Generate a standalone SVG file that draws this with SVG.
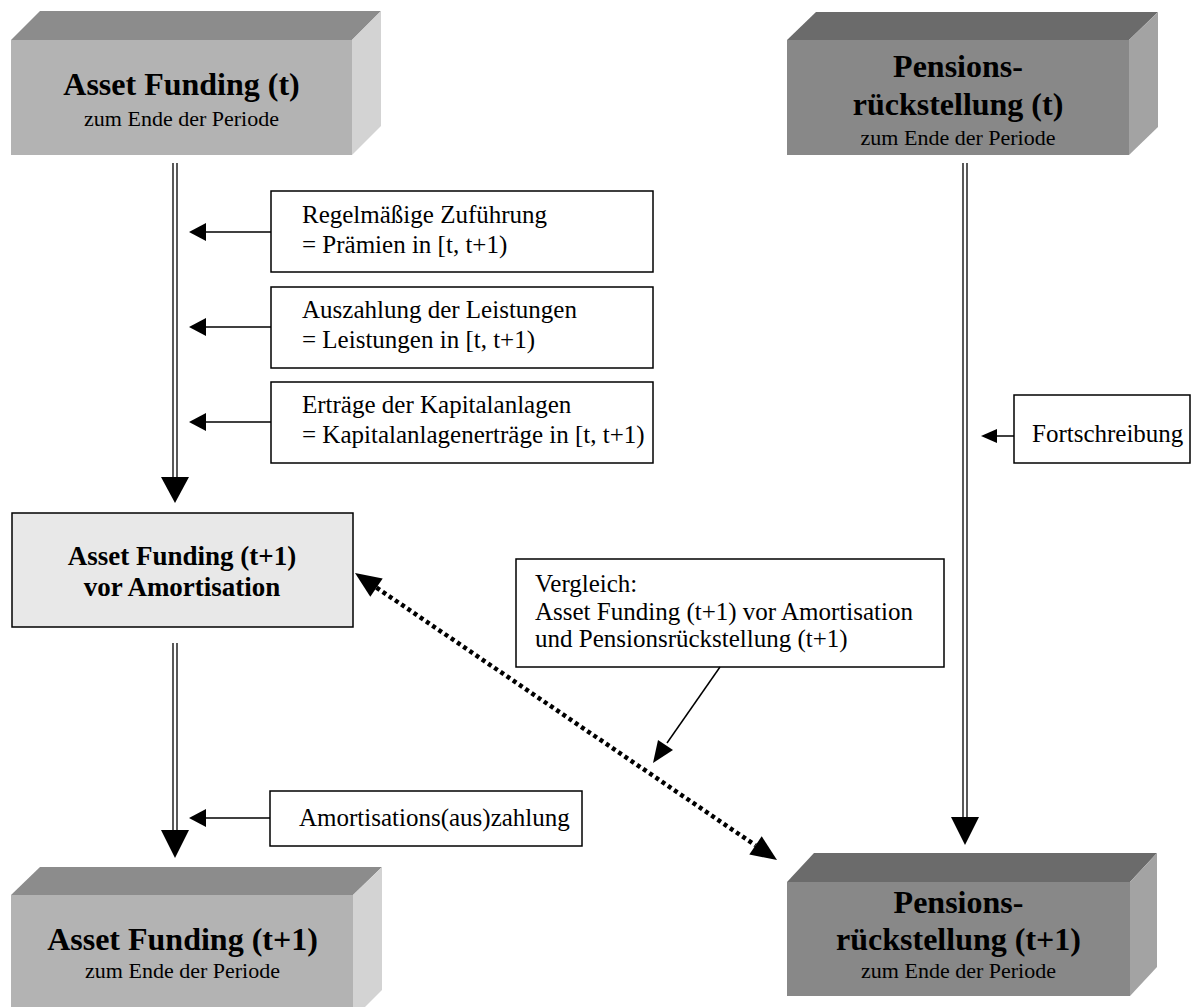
<svg xmlns="http://www.w3.org/2000/svg" width="1191" height="1007" viewBox="0 0 1191 1007">
<style>
text{font-family:"Liberation Serif","Times New Roman",serif;fill:#000}
.t{font-size:32px;font-weight:bold;text-anchor:middle}
.s{font-size:22px;text-anchor:middle}
.b{font-size:25px}
.box{fill:#fff;stroke:#000;stroke-width:1.5}
.dl{stroke:#000;stroke-width:1.3;fill:none}
.ln{stroke:#000;stroke-width:1.5;fill:none}
.ah{fill:#000}
.lt{fill:#8c8c8c}.lf{fill:#b3b3b3}.ls{fill:#d3d3d3}
.dt{fill:#6b6b6b}.df{fill:#888888}.ds{fill:#a3a3a3}
</style>
<rect width="1191" height="1007" fill="#fff"/>
<g id="asset-t">
<polygon class="lt" points="11,40 40,11 381,11 352,40"/>
<polygon class="ls" points="352,40 381,11 381,126 352,155"/>
<rect class="lf" x="11" y="40" width="341" height="115"/>
<text class="t" x="181.5" y="95">Asset Funding (t)</text>
<text class="s" x="181.5" y="126">zum Ende der Periode</text>
</g>
<g id="pension-t">
<polygon class="dt" points="787,40 816,12 1158,12 1129,40"/>
<polygon class="ds" points="1129,40 1158,12 1158,127 1129,155"/>
<rect class="df" x="787" y="40" width="342" height="115"/>
<text class="t" x="958" y="77">Pensions-</text>
<text class="t" x="958" y="115">rückstellung (t)</text>
<text class="s" x="958" y="145">zum Ende der Periode</text>
</g>
<g id="box-praemien">
<rect class="box" x="271" y="191" width="382" height="81"/>
<text class="b" x="302" y="223">Regelmäßige Zuführung</text>
<text class="b" x="302" y="253">= Prämien in [t, t+1)</text>
</g>
<g id="box-leistungen">
<rect class="box" x="271" y="287" width="382" height="81"/>
<text class="b" x="302" y="318">Auszahlung der Leistungen</text>
<text class="b" x="302" y="348">= Leistungen in [t, t+1)</text>
</g>
<g id="box-ertraege">
<rect class="box" x="271" y="382" width="382" height="81"/>
<text class="b" x="302" y="413">Erträge der Kapitalanlagen</text>
<text class="b" x="302" y="443">= Kapitalanlagenerträge in [t, t+1)</text>
</g>
<g id="box-fortschreibung">
<rect class="box" x="1014" y="395" width="176" height="68"/>
<text class="b" x="1032" y="442">Fortschreibung</text>
</g>
<g id="asset-vor">
<rect x="12" y="513" width="341" height="114" fill="#e8e8e8" stroke="#000" stroke-width="1.5"/>
<text x="182" y="565" style="font-size:27px;font-weight:bold;text-anchor:middle">Asset Funding (t+1)</text>
<text x="182" y="596" style="font-size:27px;font-weight:bold;text-anchor:middle">vor Amortisation</text>
</g>
<g id="box-vergleich">
<rect class="box" x="516" y="559" width="428" height="108"/>
<text class="b" x="535" y="592">Vergleich:</text>
<text class="b" x="535" y="620">Asset Funding (t+1) vor Amortisation</text>
<text class="b" x="535" y="647">und Pensionsrückstellung (t+1)</text>
</g>
<g id="box-amortisation">
<rect class="box" x="270" y="791" width="312" height="55"/>
<text class="b" x="299" y="826">Amortisations(aus)zahlung</text>
</g>
<g id="asset-t1">
<polygon class="lt" points="11,895 40,867 382,867 353,895"/>
<polygon class="ls" points="353,895 382,867 382,990 353,1019"/>
<rect class="lf" x="11" y="895" width="342" height="124"/>
<text class="t" x="182.5" y="950">Asset Funding (t+1)</text>
<text class="s" x="182.5" y="978">zum Ende der Periode</text>
</g>
<g id="pension-t1">
<polygon class="dt" points="787,882 814,853 1157,853 1130,882"/>
<polygon class="ds" points="1130,882 1157,853 1157,967 1130,996"/>
<rect class="df" x="787" y="882" width="343" height="114"/>
<text class="t" x="958.5" y="913">Pensions-</text>
<text class="t" x="958.5" y="950">rückstellung (t+1)</text>
<text class="s" x="958.5" y="978">zum Ende der Periode</text>
</g>
<g id="connectors">
<line class="dl" x1="173" y1="163" x2="173" y2="478"/>
<line class="dl" x1="177" y1="163" x2="177" y2="478"/>
<polygon class="ah" points="161,477 189,477 175,503"/>
<line class="dl" x1="173" y1="643" x2="173" y2="831"/>
<line class="dl" x1="177" y1="643" x2="177" y2="831"/>
<polygon class="ah" points="161,830 189,830 175,858"/>
<line class="dl" x1="963" y1="163" x2="963" y2="818"/>
<line class="dl" x1="967" y1="163" x2="967" y2="818"/>
<polygon class="ah" points="951,817 979,817 965,845"/>
<line class="ln" x1="271" y1="232" x2="204" y2="232"/>
<polygon class="ah" points="189,232 206,223 206,241"/>
<line class="ln" x1="271" y1="327" x2="204" y2="327"/>
<polygon class="ah" points="189,327 206,318 206,336"/>
<line class="ln" x1="271" y1="422" x2="204" y2="422"/>
<polygon class="ah" points="189,422 206,413 206,431"/>
<line class="ln" x1="270" y1="818" x2="204" y2="818"/>
<polygon class="ah" points="189,818 206,809 206,827"/>
<line class="ln" x1="1014" y1="436" x2="995" y2="436"/>
<polygon class="ah" points="981,436 997,429 997,443"/>
<line class="ln" x1="720" y1="667" x2="667" y2="743"/>
<polygon class="ah" points="653,763 673,750 658,740"/>
<line x1="376.5" y1="587.6" x2="755.5" y2="845.4" stroke="#000" stroke-width="4.5" stroke-dasharray="4 3.5"/>
<polygon class="ah" points="355,573 370.3,596.7 382.7,578.5"/>
<polygon class="ah" points="777,860 749.3,854.5 761.7,836.3"/>
</g>
</svg>
